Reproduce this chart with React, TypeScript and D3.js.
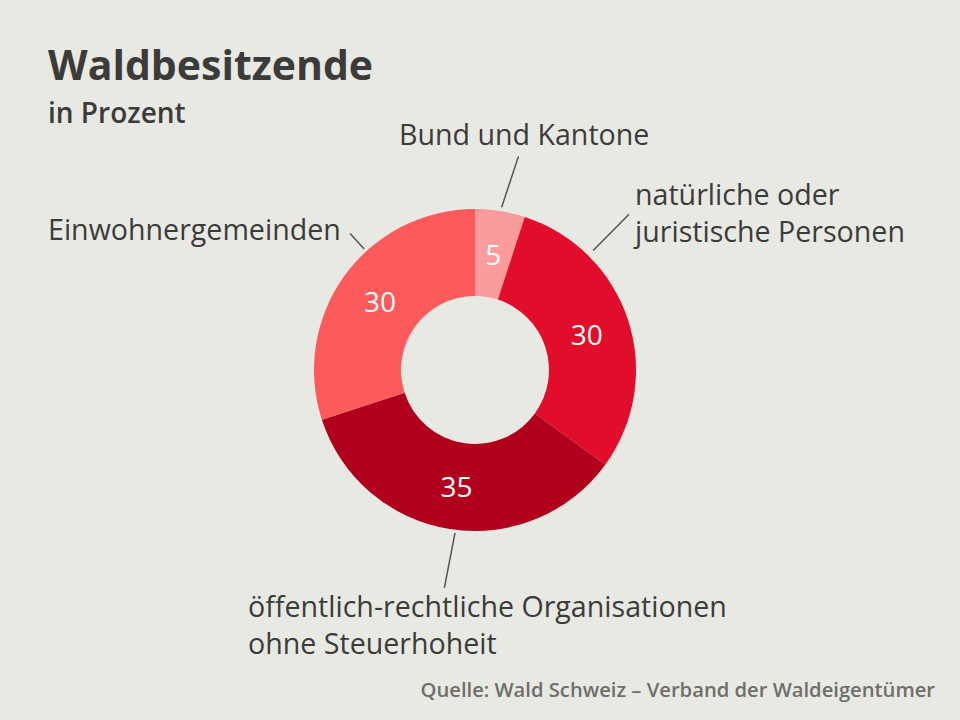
import React from "react";
import * as d3 from "d3";

const categories = [
  "Bund und Kantone",
  "natürliche oder juristische Personen",
  "öffentlich-rechtliche Organisationen ohne Steuerhoheit",
  "Einwohnergemeinden",
];
const values = [5, 30, 35, 30];
const colors = ["#fc9b9c", "#e10d2b", "#b0001d", "#fd5a5b"];
const labelLines = [
  ["Bund und Kantone"],
  ["natürliche oder", "juristische Personen"],
  ["öffentlich-rechtliche Organisationen", "ohne Steuerhoheit"],
  ["Einwohnergemeinden"],
];

const W = 960;
const H = 720;
const cx = 475;
const cy = 370;
const rOuter = 161;
const rInner = 74;
const FONT = "'Open Sans', 'Noto Sans', sans-serif";
const TEXT = "#3b3b39";

// leader lines: [startAngleDeg, startR, endAngleDeg, endR]
const leaders = [
  [9.3, 165, 11.5, 218],
  [44.7, 168, 44.7, 219],
  [187, 164, 188, 220],
  [317.5, 164, 317.5, 185],
];
// label anchor: x, y (first baseline), anchor
const labelPos: [number, number, string][] = [
  [399, 145, "start"],
  [635, 205, "start"],
  [248, 617, "start"],
  [48, 240, "start"],
];

function polar(angDeg: number, r: number): [number, number] {
  const a = (angDeg * Math.PI) / 180;
  return [cx + r * Math.sin(a), cy - r * Math.cos(a)];
}

export default function App() {
  const pie = d3.pie<number>().sort(null).value((d) => d)(values);
  const arc = d3.arc<d3.PieArcDatum<number>>().innerRadius(rInner).outerRadius(rOuter);
  const labelArc = d3
    .arc<d3.PieArcDatum<number>>()
    .innerRadius((rInner + rOuter) / 2)
    .outerRadius((rInner + rOuter) / 2);

  return (
    <svg width={W} height={H} style={{ display: "block", position: "absolute", left: 0, top: 0 }}>
      <rect x={0} y={0} width={W} height={H} fill="#e9e9e4" />
      <text x={48} y={80} fontFamily={FONT} fontWeight={700} fontSize={41} fill={TEXT}>
        Waldbesitzende
      </text>
      <text x={48} y={123} fontFamily={FONT} fontWeight={600} fontSize={28} fill={TEXT}>
        in Prozent
      </text>
      <g transform={`translate(${cx},${cy})`}>
        {pie.map((d, i) => (
          <path key={i} d={arc(d) || ""} fill={colors[i]} />
        ))}
        {pie.map((d, i) => {
          const [x, y] = labelArc.centroid(d);
          return (
            <text
              key={"v" + i}
              x={x}
              y={y}
              textAnchor="middle"
              dominantBaseline="central"
              fontFamily={FONT}
              fontSize={28}
              fill="#ffffff"
            >
              {values[i]}
            </text>
          );
        })}
      </g>
      {leaders.map((l, i) => {
        const [x1, y1] = polar(l[0], l[1]);
        const [x2, y2] = polar(l[2], l[3]);
        return <line key={"l" + i} x1={x1} y1={y1} x2={x2} y2={y2} stroke="#555553" strokeWidth={1.5} />;
      })}
      {labelLines.map((lines, i) => (
        <text
          key={"t" + i}
          x={labelPos[i][0]}
          y={labelPos[i][1]}
          textAnchor={labelPos[i][2] as any}
          fontFamily={FONT}
          fontSize={28.6}
          fill={TEXT}
        >
          {lines.map((s, j) => (
            <tspan key={j} x={labelPos[i][0]} dy={j === 0 ? 0 : 37}>
              {s}
            </tspan>
          ))}
        </text>
      ))}
      <text x={935} y={697} textAnchor="end" fontFamily={FONT} fontWeight={600} fontSize={20.2} fill="#6e6e6b">
        Quelle: Wald Schweiz – Verband der Waldeigentümer
      </text>
    </svg>
  );
}
